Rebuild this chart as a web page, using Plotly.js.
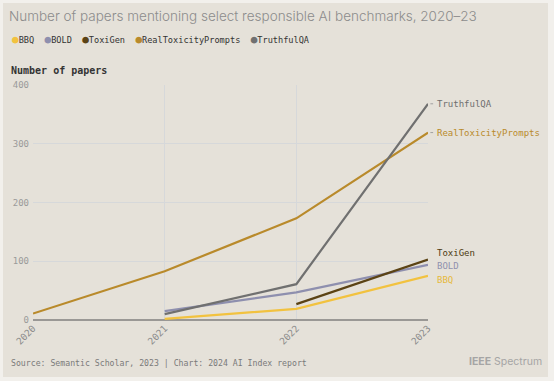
<!DOCTYPE html>
<html>
<head>
<meta charset="utf-8">
<script src="https://cdn.plot.ly/plotly-3.0.1.min.js"></script>
<style>
  html, body { margin: 0; padding: 0; background: #f2f0ec; width: 554px; height: 381px; overflow: hidden; }
  #chart { position: absolute; left: 3px; top: 3px; width: 545px; height: 374px; }
</style>
</head>
<body>
<div id="chart"></div>
<script>
// ---- data ----
const years = [2020, 2021, 2022, 2023];
const seriesNames = ["BBQ", "BOLD", "ToxiGen", "RealToxicityPrompts", "TruthfulQA"];
const bbq = [null, 2, 19, 75];
const bold = [null, 15, 47, 94];
const toxigen = [null, null, 27, 103];
const realToxicityPrompts = [11, 83, 173, 319];
const truthfulQA = [null, 10, 61, 368];
const yTicks = [0, 100, 200, 300, 400];
const xTickLabels = ["2020", "2021", "2022", "2023"];

// ---- styles ----
const colors = ["#f2c23f", "#8e8fae", "#5b4315", "#b98a2b", "#707070"];
const labelColors = ["#e6b93c", "#9091ae", "#4d3a12", "#b98a2b", "#6e6e6e"];
const values = [bbq, bold, toxigen, realToxicityPrompts, truthfulQA];
const mono = "DejaVu Sans Mono, monospace";
const sans = "Inter, Noto Sans, sans-serif";

// plot geometry (div coordinates)
const W = 545, H = 374;
const M = { l: 29.5, r: 119.5, t: 81.5, b: 57 };
const pw = W - M.l - M.r, ph = H - M.t - M.b;
const px = x => (x - 3 - M.l) / pw;          // page x -> paper x
const py = y => 1 - (y - 3 - M.t) / ph;      // page y -> paper y

const traces = seriesNames.map((name, i) => ({
  type: "scatter", mode: "lines", name: name,
  x: years, y: values[i],
  line: { color: colors[i], width: 2.2 },
  connectgaps: false, showlegend: false, hoverinfo: "skip"
}));

// legend text
const legendText = seriesNames.map((n, i) =>
  `<span style="color:${colors[i]};font-size:11px">●</span>${n}`).join("  ");

// end labels: y shifts (px) to avoid overlap
const labelShift = [-4, -1, 6, 0, 0];
const annotations = [
  { xref: "paper", yref: "paper", x: px(9), y: py(38.5), xanchor: "left", yanchor: "middle",
    text: legendText, showarrow: false, font: { family: mono, size: 8.6, color: "#333" } },
  { xref: "paper", yref: "paper", x: px(8), y: py(70), xanchor: "left", yanchor: "middle",
    text: "<b>Number of papers</b>", showarrow: false, font: { family: mono, size: 10, color: "#333" } },
  { xref: "paper", yref: "paper", x: px(8), y: py(363), xanchor: "left", yanchor: "middle",
    text: "Source: Semantic Scholar, 2023 | Chart: 2024 AI Index report", showarrow: false,
    font: { family: mono, size: 8.2, color: "#7a7a7a" } },
  { xref: "paper", yref: "paper", x: px(545), y: py(362), xanchor: "right", yanchor: "middle",
    text: "<b>IEEE</b> Spectrum", showarrow: false,
    font: { family: sans, size: 10.5, color: "#a5a5a5" } }
];
seriesNames.forEach((n, i) => {
  const arr = values[i];
  annotations.push({
    xref: "x", yref: "y", x: 2023, y: arr[arr.length - 1],
    xanchor: "left", yanchor: "middle", xshift: 7, yshift: labelShift[i],
    text: n, showarrow: false,
    font: { family: mono, size: 9, color: labelColors[i] }
  });
});

const shapes = [3, 4].map(i => ({
  type: "line", xref: "paper", yref: "y",
  x0: 1.006, x1: 1.013, y0: values[i][3], y1: values[i][3],
  line: { color: "#a0a0a0", width: 1 }
}));

const layout = {
  width: W, height: H,
  margin: M,
  paper_bgcolor: "#e5e1d9",
  plot_bgcolor: "#e5e1d9",
  title: {
    text: "Number of papers mentioning select responsible AI benchmarks, 2020–23",
    xref: "container", yref: "container", x: 6 / W, y: 1 - 13 / H,
    xanchor: "left", yanchor: "middle",
    font: { family: sans, size: 13.5, color: "#8c8c8c", weight: 300 }
  },
  xaxis: {
    range: [2020, 2023], tickvals: years, ticktext: xTickLabels,
    tickangle: -45, showgrid: true, gridcolor: "#d6d8da", gridwidth: 1,
    zeroline: false, showline: false, ticks: "",
    tickfont: { family: mono, size: 9.5, color: "#8a8a8a" },
    fixedrange: true
  },
  yaxis: {
    range: [0, 400], tickvals: yTicks, showgrid: true, gridcolor: "#d6d8da", gridwidth: 1,
    zeroline: true, zerolinecolor: "#9a9895", zerolinewidth: 2,
    showline: false, ticks: "", ticklabelstandoff: 3,
    tickfont: { family: mono, size: 9, color: "#9a9a9a" },
    fixedrange: true
  },
  annotations: annotations,
  shapes: shapes,
  showlegend: false
};

Plotly.newPlot("chart", traces, layout, { displayModeBar: false, staticPlot: true });
</script>
</body>
</html>
